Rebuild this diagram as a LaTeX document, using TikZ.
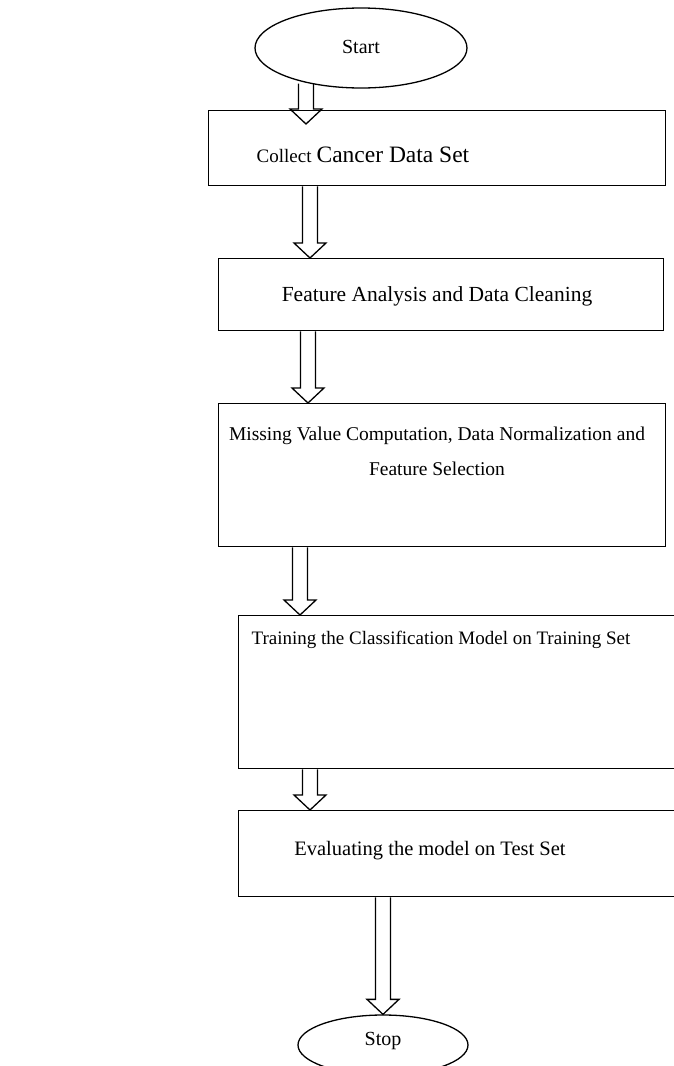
\documentclass[tikz,border=0pt]{standalone}
\usepackage{fontspec}
\setmainfont{Liberation Serif}
\usetikzlibrary{shapes.geometric,calc}

\begin{document}
\begin{tikzpicture}[x=1pt,y=-1pt,line width=1.3pt]
	\tikzstyle{terminal}=[ellipse,draw,inner sep=0pt]
	\tikzstyle{stepbox}=[rectangle,draw,anchor=north west,inner sep=0pt]
	\tikzstyle{steptext}=[font=\fontsize{20}{35}\selectfont,align=center,inner sep=0pt]
	\tikzstyle{hollow}=[to path={let \p1=(\tikztostart), \p2=(\tikztotarget) in
		(\x1-7.5pt,\y1) -- (\x1-7.5pt,\y2+15pt) -- (\x1-16pt,\y2+15pt) -- (\x1,\y2)
		-- (\x1+16pt,\y2+15pt) -- (\x1+7.5pt,\y2+15pt) -- (\x1+7.5pt,\y1)}]
	
	\useasboundingbox (0,0) rectangle (673,1066);
	
	% Start and stop
	\node[terminal,minimum width=212pt,minimum height=80pt] (start) at (361,48) {};
	\node[steptext] (start-t) at (361,47) {Start};
	\node[terminal,minimum width=170pt,minimum height=60pt] (stop) at (383,1045) {};
	\node[steptext] (stop-t) at (383,1041) {Stop};
	
	% Draw the boxes
	\node[stepbox,minimum width=457pt,minimum height=75pt] (collect) at (208,110) {};
	\node[stepbox,minimum width=445pt,minimum height=72pt] (clean) at (218,258) {};
	\node[stepbox,minimum width=447pt,minimum height=143pt] (select) at (218,403) {};
	\node[stepbox,minimum width=452pt,minimum height=153pt] (train) at (238,615) {};
	\node[stepbox,minimum width=452pt,minimum height=86pt] (test) at (238,810) {};
	
	% Box texts
	\node[steptext] (collect-t) at (363,155) {{\fontsize{19}{22}\selectfont Collect} {\fontsize{23.5}{28}\selectfont Cancer Data Set}};
	\node[steptext,font=\fontsize{21.5}{35}\selectfont] (clean-t) at (437,296) {Feature Analysis and Data Cleaning};
	\node[steptext,font=\fontsize{19.5}{35}\selectfont] (select-t) at (437,451) {Missing Value Computation, Data Normalization and\\Feature Selection};
	\node[steptext,font=\fontsize{19}{35}\selectfont] (train-t) at (441,640) {Training the Classification Model on Training Set};
	\node[steptext,font=\fontsize{20.5}{35}\selectfont] (test-t) at (430,851) {Evaluating the model on Test Set};
	
	% Hollow arrows
	\coordinate (ax) at (306,0);
	\coordinate (a1) at ($(collect.north -| ax)+(0,14)$);
	\draw[hollow] ($(start.south -| ax)+(0,-5)$) to (a1);
	\foreach \src/\dst/\x in {collect/clean/310,clean/select/308,select/train/300,train/test/310,test/stop/383}{
		\coordinate (ax) at (\x,0);
		\draw[hollow] (\src.south -| ax) to (\dst.north -| ax);
	}
\end{tikzpicture}
\end{document}
